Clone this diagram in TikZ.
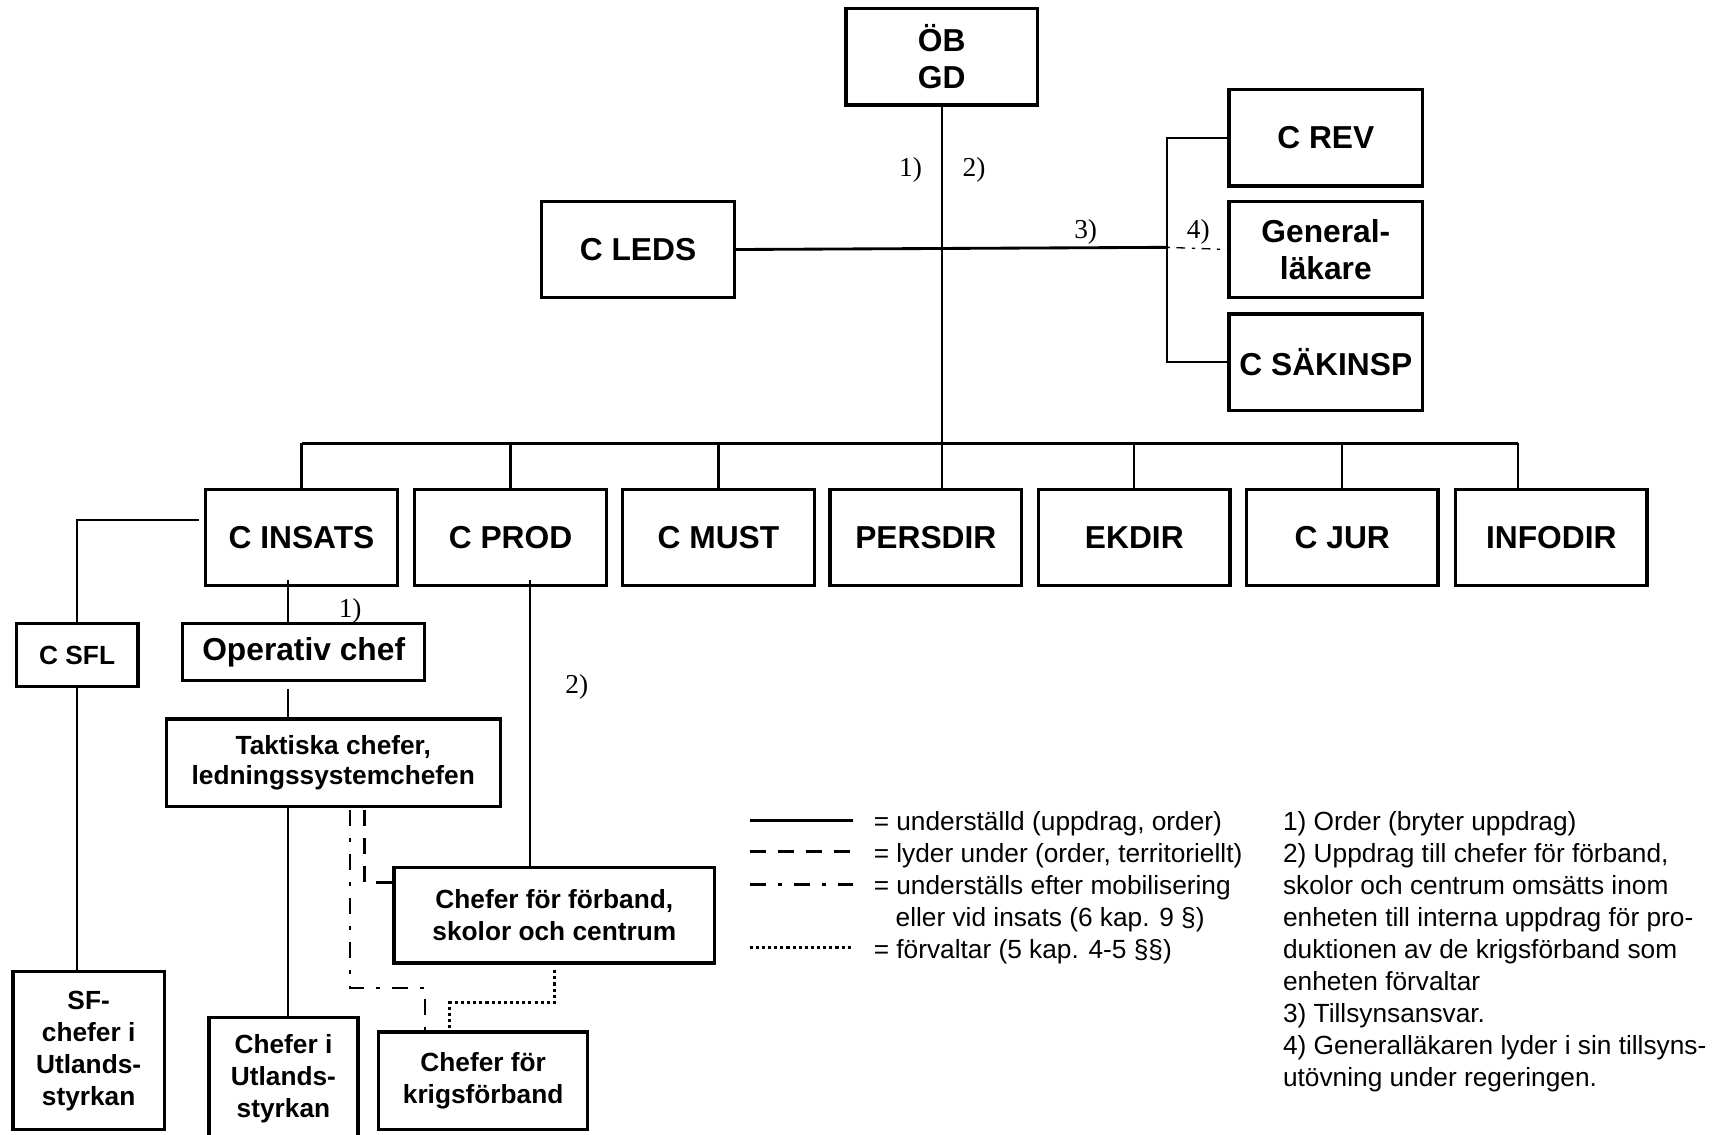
\documentclass[tikz,border=0pt]{standalone}
\usepackage{fontspec}
\setmainfont{Liberation Sans}
\newfontfamily\timesfont{Liberation Serif}
\usetikzlibrary{calc}

\begin{document}
\begin{tikzpicture}[
    x=0.5pt, y=-0.5pt,
    % --- STILAR ---
    unit/.style={
            draw=black,
            line width=1.5pt,
            rectangle,
            align=center,
            inner sep=2pt,
            minimum width=87.5pt,
            minimum height=44pt,
            font=\fontsize{14.5}{17}\selectfont\bfseries
        },
    subunit/.style={
            unit,
            font=\fontsize{12}{14.6}\selectfont\bfseries
        },
    link/.style={draw=black, line width=1pt},
    bar/.style={draw=black, line width=1.5pt},
    lyder/.style={line width=1.3pt, dash pattern=on 7.3pt off 5.5pt},
    mob/.style={line width=1pt, dash pattern=on 7.3pt off 5.5pt on 1.8pt off 5.5pt},
    forv/.style={line width=1.3pt, dash pattern=on 1.4pt off 1.4pt},
    note/.style={
            inner sep=0pt,
            font=\timesfont\fontsize{12.5}{15}\selectfont
        },
    legtext/.style={
            anchor=base west,
            align=left,
            inner sep=0pt,
            font=\fontsize{12}{14.65}\selectfont
        }
    ]
    \useasboundingbox (0,0) rectangle (1568,1037);

    % --- LEDNING ---
    \node[unit] (ob) at (860.5,52) {ÖB\\GD};
    \node[unit, minimum width=88.5pt] (crev) at (1211.5,126) {C REV};
    \node[unit, minimum width=88.5pt] (genlak) at (1211.5,228) {General-\\läkare};
    \node[unit, minimum width=88.5pt] (csak) at (1211.5,331) {C SÄKINSP};
    \node[unit, minimum width=88pt] (cleds) at (583,228) {C LEDS};

    % --- ANDRA NIVÅN ---
    \node[unit] (insats) at (275.5,491) {C INSATS};
    \node[unit] (prod) at (466.5,491) {C PROD};
    \node[unit] (must) at (656.5,491) {C MUST};
    \node[unit] (pers) at (846,491) {PERSDIR};
    \node[unit] (ekdir) at (1036.5,491) {EKDIR};
    \node[unit] (cjur) at (1226.5,491) {C JUR};
    \node[unit] (info) at (1417.5,491) {INFODIR};

    % --- UNDER C INSATS / C PROD ---
    \node[subunit, minimum width=55.5pt, minimum height=28.5pt] (csfl) at (70.5,598.5) {C SFL};
    \node[unit, minimum width=110.5pt, minimum height=26pt] (opchef) at (277.5,596) {Operativ chef};
    \node[subunit, minimum width=152.5pt, minimum height=40pt,
        font=\fontsize{12}{13.5}\selectfont\bfseries] (takt) at (304.5,697) {Taktiska chefer,\\ledningssystemchefen};
    \node[subunit, minimum width=69pt, minimum height=72pt] (sfchef) at (81,960) {SF-\\chefer i\\Utlands-\\styrkan};
    \node[subunit, minimum width=68pt, minimum height=56pt] (utl) at (259,986) {Chefer i\\Utlands-\\styrkan};
    \node[subunit, minimum width=146.5pt, minimum height=43.5pt] (forb) at (506.5,836.5) {Chefer för förband,\\skolor och centrum};
    \node[subunit, minimum width=95.5pt, minimum height=44.5pt] (krig) at (441.5,987.5) {Chefer för\\krigsförband};

    % --- LINJER ---
    \draw[link] (ob.south) -- (ob.south |- pers.north);
    \coordinate (barL) at (276,405);
    \coordinate (barR) at (1387,405);
    \draw[bar] (barL) -- (barR);
    \foreach \u in {insats, prod, must, ekdir, cjur}
    \draw[link] (\u.north |- barL) -- (\u.north);
    \draw[link] (barR) -- (barR |- info.north);

    \coordinate (brk) at (1066,226);
    \draw[link] (crev.west) -| (brk) |- (csak.west);
    \draw[link, line width=1.3pt] (cleds.east) -- (brk);
    \draw[line width=0.6pt, dash pattern=on 1.5pt off 3pt on 4pt off 3pt] (brk) -- (genlak.west);

    \draw[link] (insats.west) ++(-5,-16) -| (csfl.north);
    \draw[link] (csfl.south) -- (csfl.south |- sfchef.north);

    \coordinate (spine) at (263,530);
    \draw[link] (spine) -- (spine |- opchef.north);
    \draw[link] (spine |- opchef.south) ++(0,6) -- (spine |- takt.north);
    \draw[link] (spine |- takt.south) -- (spine |- utl.north);

    \coordinate (prodout) at (484,530);
    \draw[link] (prodout) -- (prodout |- forb.north);

    % lyder under / mobilisering / förvaltar
    \coordinate (dsh) at (333,740);
    \draw[lyder] (dsh) |- ($(forb.west)+(0,-30)$);
    \coordinate (mobtop) at (320,740);
    \coordinate (mobmid) at (388,903);
    \draw[mob] (mobtop) |- (mobmid) -- (mobmid |- krig.north);
    \coordinate (dotmid) at (411,916);
    \draw[forv] (forb.south) ++(0,5) |- (dotmid) -- (dotmid |- krig.north);

    % --- NOTER ---
    \node[note] (n1) at (832,155) {1)};
    \node[note] (n2) at (890,155) {2)};
    \node[note] (n3) at (992,212) {3)};
    \node[note] (n4) at (1095,212) {4)};
    \node[note] (n5) at (320,558) {1)};
    \node[note] (n6) at (527,628) {2)};

    % --- TECKENFÖRKLARING ---
    \foreach \y/\s [count=\i] in {750/bar, 778/lyder, 808/mob, 866/forv} {
        \coordinate (lgA\i) at (685,\y);
        \coordinate (lgB\i) at (779,\y);
        \draw[\s, line width=1.4pt] (lgA\i) -- (lgB\i);
    }
    \node[legtext] (legend) at (798,876) {= underställd (uppdrag, order)\\= lyder under (order, territoriellt)\\= underställs efter mobilisering\\\hspace*{10pt}eller vid insats (6 kap. 9 §)\\= förvaltar (5 kap. 4-5 §§)};
    \node[legtext] (notes) at (1172,993) {1) Order (bryter uppdrag)\\2) Uppdrag till chefer för förband,\\skolor och centrum omsätts inom\\enheten till interna uppdrag för pro-\\duktionen av de krigsförband som\\enheten förvaltar\\3) Tillsynsansvar.\\4) Generalläkaren lyder i sin tillsyns-\\utövning under regeringen.};

\end{tikzpicture}
\end{document}
